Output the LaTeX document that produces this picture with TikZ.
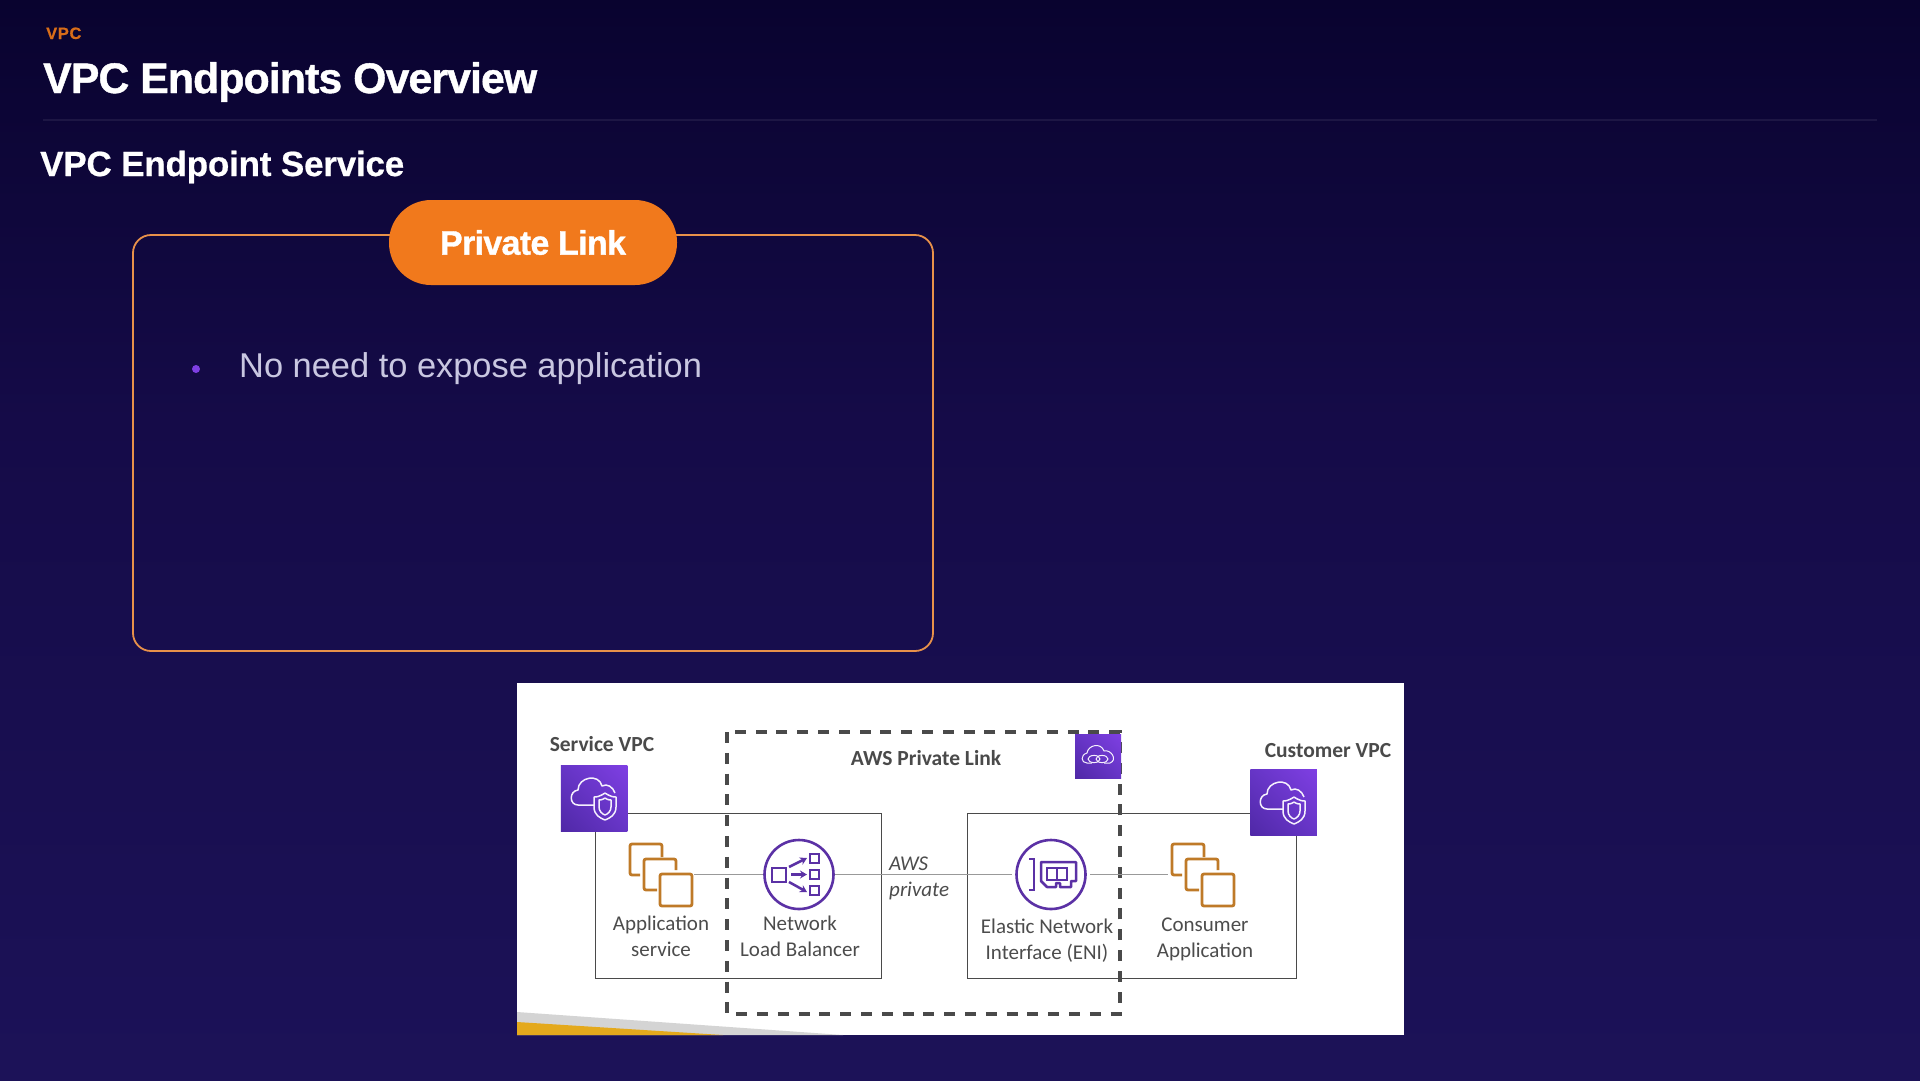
\documentclass[tikz,border=0pt]{standalone}
\usepackage{fontspec}
\usetikzlibrary{shadings,arrows.meta}
\setmainfont{Liberation Sans}
\newfontfamily\titlefont[LetterSpace=-2,BoldFeatures={FakeBold=1}]{Liberation Sans}
\newfontfamily\subfont[LetterSpace=-0.6,BoldFeatures={FakeBold=0.6}]{Liberation Sans}
\newfontfamily\kickerfont[LetterSpace=4,BoldFeatures={FakeBold=0.4}]{Liberation Sans}
\newfontfamily\awsfont{Carlito}
\definecolor{topblue}{HTML}{09032F}
\definecolor{midblue}{HTML}{150B48}
\definecolor{lowblue}{HTML}{1C1258}
\definecolor{pillorange}{HTML}{F1791C}
\definecolor{cardorange}{HTML}{E8914A}
\definecolor{bodygrey}{HTML}{C9C7E1}
\definecolor{awsgrey}{HTML}{4A4A4A}
\definecolor{stackbrown}{HTML}{BF7A28}
\definecolor{nlbpurple}{HTML}{5B31A5}
\definecolor{vpchigh}{HTML}{7F3FE3}
\definecolor{vpcmid}{HTML}{6635C6}
\definecolor{vpclow}{HTML}{4F28A6}
\definecolor{wedgeyellow}{HTML}{E4A91C}
\tikzset{
  % cloud and shield in a purple tile
  vpctile/.style = {rectangle, minimum size=66.5pt, inner sep=0pt, shading=bilinear interpolation,
                    lower left=vpclow, upper right=vpchigh, lower right=vpcmid, upper left=vpcmid},
  stackicon/.pic = {
    \draw[stackline] (32,13) -- (32,0) -- (0,0) -- (0,31) -- (10,31);
    \draw[stackline] (27,46) -- (14,46) -- (14,15) -- (46,15) -- (46,26);
    \draw[stackline] (30,30) rectangle (62,62);
    \coordinate (-out) at (64,30.5);
    \coordinate (-in) at (-4,30.5);
  },
  vpcmark/.pic = {
    \draw[tileline] (33,40) -- (17,40) .. controls (8,40) and (8,26) .. (17,25)
      .. controls (17,12) and (38,8) .. (41,21) .. controls (46,18) and (52,22) .. (54,28);
    \draw[tileline] (44,28) .. controls (38,32) and (35,32) .. (33,32) -- (33,42)
      .. controls (33,50) and (39,53) .. (44,55) .. controls (49,53) and (55,50) .. (55,42)
      -- (55,32) .. controls (53,32) and (50,32) .. (44,28);
    \draw[tileline] (44,33) .. controls (41,35) and (39,35) .. (38,35) -- (38,42)
      .. controls (38,46) and (41,49) .. (44,50) .. controls (47,49) and (50,46) .. (50,42)
      -- (50,35) .. controls (49,35) and (47,35) .. (44,33);
  }
}
\begin{document}
\begin{tikzpicture}[x=1pt,y=-1pt,
                    head/.style = {anchor=base west, inner sep=0pt, text=white},
                    stackline/.style = {draw=stackbrown, line width=2.8pt, rounded corners=2pt},
                    tileline/.style = {draw=white!92!vpchigh, line width=1.5pt, line join=round},
                    nlbline/.style = {draw=nlbpurple, line width=2.5pt},
                    iconring/.style = {circle, draw=nlbpurple, line width=2.6pt, minimum size=69pt, inner sep=0pt},
                    vpcbox/.style = {rectangle, draw=awsgrey, line width=1pt, inner sep=0pt},
                    link/.style = {draw=black!40, line width=1pt},
                    awslabel/.style = {inner sep=0pt, align=center, text=black!70, font=\awsfont\fontsize{21}{25.7}\selectfont},
                    awshead/.style = {inner sep=0pt, text=awsgrey, font=\awsfont\bfseries\fontsize{21.5}{25}\selectfont}]
    \useasboundingbox (0,0) rectangle (1920,1080);
    % Slide background
    \shade[top color=topblue, bottom color=midblue] (0,0) rectangle (1920,420);
    \shade[top color=midblue, bottom color=lowblue] (0,420) rectangle (1920,1080);
    \node[head, text=pillorange!90!black, font=\kickerfont\bfseries\fontsize{16.5}{18}\selectfont] (kicker) at (46,39) {VPC};
    \node[head, font=\titlefont\bfseries\fontsize{42.7}{50}\selectfont] (title) at (43,93) {VPC Endpoints Overview};
    \draw[draw=white, line width=2.5pt, draw opacity=0.07] (43,120) -- (1877,120);
    \node[head, font=\subfont\bfseries\fontsize{35}{42}\selectfont] (subtitle) at (40,176) {VPC Endpoint Service};
    % Private link card
    \node[rectangle, draw=cardorange, line width=1.8pt, rounded corners=18pt,
          minimum width=800pt, minimum height=416pt] (card) at (533,443) {};
    \node[rectangle, fill=pillorange, rounded corners=42pt, minimum width=288pt, minimum height=85pt,
          text=white, font=\titlefont\bfseries\fontsize{34}{40}\selectfont] (pill) at (533,242.5) {Private Link};
    \node[circle, fill=vpchigh, minimum size=8pt, inner sep=0pt] (dot) at (196,369) {};
    \node[anchor=base west, inner sep=0pt, text=bodygrey, font=\fontsize{34.4}{40}\selectfont] (point) at (239,377) {No need to expose application};
    % White panel with the AWS diagram
    \fill[white] (517,683) rectangle (1404,1035);
    \fill[black!17] (517,1012) -- (843,1035) -- (517,1035) -- cycle;
    \fill[wedgeyellow] (517,1022) -- (723,1035) -- (517,1035) -- cycle;
    % Service VPC
    \node[vpcbox, minimum width=286pt, minimum height=165pt] (servicebox) at (738.5,895.5) {};
    \node[vpcbox, minimum width=329.5pt, minimum height=165pt] (customerbox) at (1132,895.5) {};
    % Private link border
    \draw[draw=awsgrey, line width=3.05pt, dash pattern=on 11pt off 9.8pt] (727,732) rectangle (1120,1014);
    \pic (appstack) at (630,844) {stackicon};
    \pic (consumerstack) at (1172,844) {stackicon};
    \node[iconring] (nlb) at (799,874.5) {};
    \node[iconring] (eni) at (1051,874.5) {};
    \draw[link] (appstack-out) -- (nlb);
    \draw[link, shorten >=3pt] (nlb) -- (eni);
    \draw[link, shorten <=3pt] (eni) -- (consumerstack-in);
    % Load balancer mark
    \draw[nlbline] (772,868) rectangle (786,882);
    \foreach \rowy in {854,870,886} {
      \draw[nlbline] (810,\rowy) rectangle (819,\rowy+9);
    }
    \draw[nlbline, -{Stealth[length=7pt,width=8pt]}] (789,867) -- (807,858);
    \draw[nlbline, -{Stealth[length=7pt,width=8pt]}] (791,874.5) -- (807,874.5);
    \draw[nlbline, -{Stealth[length=7pt,width=8pt]}] (789,882) -- (807,892);
    % Network interface mark
    \draw[nlbline] (1029,859) -- (1034,859) -- (1034,890) -- (1029,890);
    \draw[nlbline, line join=round] (1041,862) -- (1076,862) -- (1076,881) -- (1071,881) -- (1071,887) -- (1060,887)
      -- (1060,883) -- (1056,883) -- (1056,887) -- (1047,887) -- (1041,881) -- cycle;
    \draw[nlbline] (1047,868) rectangle (1067,880);
    \draw[nlbline] (1057,868) -- (1057,880);
    % Tiles
    \node[vpctile] (servicetile) at (594,798.5) {};
    \pic at (561,765) {vpcmark};
    \node[vpctile] (customertile) at (1283.5,802.5) {};
    \pic at (1250,769) {vpcmark};
    \node[vpctile, minimum size=0pt, minimum width=46pt, minimum height=44pt] (linktile) at (1098,756) {};
    \draw[tileline, line width=1pt] (1092,763) -- (1087,763) .. controls (1081,763) and (1080,755) .. (1087,753)
      .. controls (1088,745) and (1101,742) .. (1104,751) .. controls (1111,749) and (1118,760) .. (1110,763) -- (1104,763);
    \draw[tileline, line width=1pt] (1094,759) ellipse (6pt and 3.6pt);
    \draw[tileline, line width=1pt] (1102,759) ellipse (6pt and 3.6pt);
    % Labels
    \node[awshead] (servicelabel) at (602,744) {Service VPC};
    \node[awshead] (customerlabel) at (1328,751) {Customer VPC};
    \node[awshead] (linklabel) at (926,758) {AWS Private Link};
    \node[awslabel] (applabel) at (661,936.5) {Application\\service};
    \node[awslabel] (nlblabel) at (800,936.5) {Network\\Load Balancer};
    \node[awslabel] (enilabel) at (1047,941) {Elastic Network\\Interface (ENI)};
    \node[awslabel] (consumerlabel) at (1205,939.5) {Consumer\\Application};
    \node[awslabel, align=left, anchor=north west, font=\awsfont\itshape\fontsize{21}{25.7}\selectfont] (privatelabel) at (889,857) {AWS\\private};
\end{tikzpicture}
\end{document}
